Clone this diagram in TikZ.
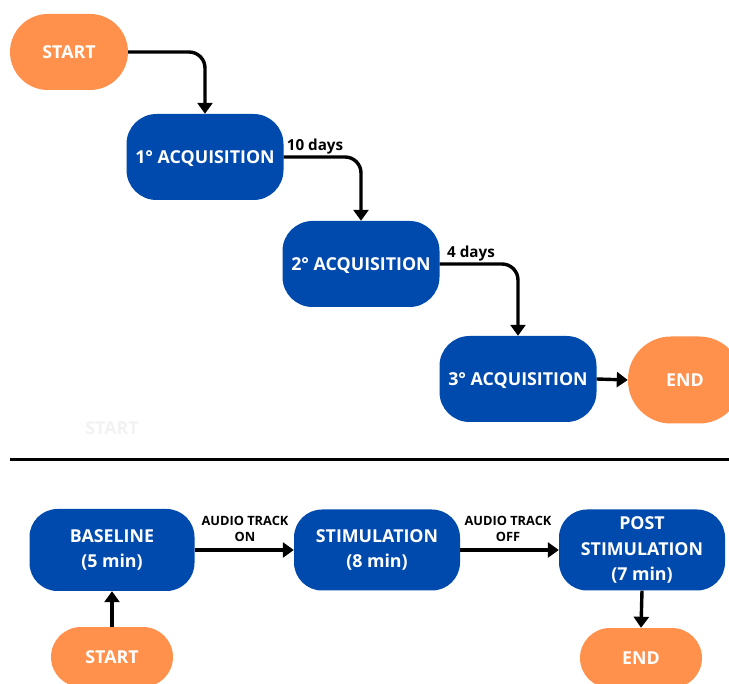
\documentclass[tikz,border=0pt]{standalone}
\usepackage{fontspec}
\setmainfont{Open Sans}
\usetikzlibrary{arrows.meta}
\definecolor{cblue}{HTML}{004AAD}
\definecolor{corange}{HTML}{FF914D}
\definecolor{faint}{HTML}{F2F2F2}
\tikzset{
  bluebox/.style={rectangle, fill=cblue, text=white, inner sep=0pt, align=center,
    font=\bfseries\fontsize{17.8}{25.5}\selectfont},
  acqbox/.style={bluebox, text depth=0pt, minimum width=157pt, minimum height=86pt, rounded corners=30pt},
  pill/.style={rectangle, fill=corange, text=white, inner sep=0pt, align=center,
    font=\bfseries\fontsize{17.8}{20}\selectfont},
  conn/.style={line width=3.4pt, -{Triangle[width=15pt,length=11pt]}, rounded corners=16pt},
  lbl/.style={inner sep=0pt, align=center, font=\bfseries\fontsize{15.2}{17}\selectfont},
  smalllbl/.style={inner sep=0pt, align=center, font=\bfseries\fontsize{12.8}{16}\selectfont}
}
\begin{document}
\begin{tikzpicture}[x=1pt,y=-1pt]
\useasboundingbox (0,0) rectangle (729,684);
\clip (0,0) rectangle (729,684);
% top flow
\node[pill, minimum width=118pt, minimum height=76pt, rounded corners=38pt] (start1) at (69,52) {START};
\node[acqbox] (a1) at (205,157) {1° ACQUISITION};
\node[acqbox] (a2) at (361,264) {2° ACQUISITION};
\node[acqbox] (a3) at (518,379) {3° ACQUISITION};
\node[pill, minimum width=114pt, minimum height=87pt, rounded corners=43pt] (end1) at (685,380) {END};
\draw[conn] (start1.east) -| (a1.north);
\draw[conn] (a1.east) -| (a2.north);
\draw[conn] (a2.east) -| (a3.north);
\draw[conn] (a3.east) -- (end1.west);
\node[lbl] (l10) at (315,147) {10 days};
\node[lbl] (l4) at (471,254) {4 days};
\node[text=faint, inner sep=0pt, font=\bfseries\fontsize{17.8}{20}\selectfont] (ghost) at (112,428) {START};
% separator
\coordinate (sepl) at (10,460);
\coordinate (sepr) at (729,460);
\draw[line width=3pt] (sepl) -- (sepr);
% bottom flow
\node[bluebox, minimum width=165pt, minimum height=82pt, rounded corners=28pt] (base) at (112,550) {BASELINE\\(5 min)};
\node[bluebox, minimum width=166pt, minimum height=81pt, rounded corners=28pt] (stim) at (377,550) {STIMULATION\\(8 min)};
\node[bluebox, minimum width=166pt, minimum height=81pt, rounded corners=28pt] (post) at (642,550) {POST\\STIMULATION\\(7 min)};
\node[pill, minimum width=122pt, minimum height=60pt, rounded corners=30pt] (start2) at (112,657) {START};
\node[pill, minimum width=122pt, minimum height=60pt, rounded corners=30pt] (end2) at (641,658) {END};
\draw[conn] (start2.north) -- (base.south);
\draw[conn] (base.east) -- (stim.west);
\draw[conn] (stim.east) -- (post.west);
\draw[conn] (post.south) -- (end2.north);
\node[smalllbl] (lon) at (245,529) {AUDIO TRACK\\ON};
\node[smalllbl] (loff) at (508,529) {AUDIO TRACK\\OFF};
\end{tikzpicture}
\end{document}
